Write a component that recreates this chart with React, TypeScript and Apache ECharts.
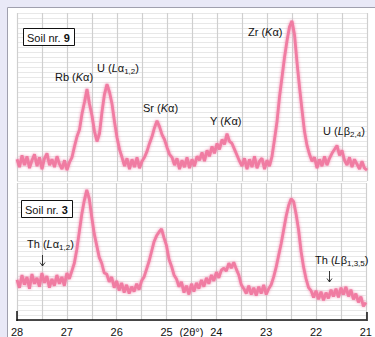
import React, { useEffect, useRef } from "react";
import * as echarts from "echarts";

// 2θ sampling grid (degrees), reading the trace every 0.05°
const X_START = 28;
const X_STEP = 0.05;

// Soil nr. 9 – intensity (arbitrary units)
const soil9: number[] = [
  22, 14, 26, 16, 25, 13, 21, 27, 15, 24, 12, 23, 28, 16, 22, 14, 25, 17, 12, 21,
  11, 19, 24, 35, 45, 52, 68, 80, 93, 78, 66, 50, 40, 48, 70, 88, 98, 90, 78, 60,
  44, 32, 24, 15, 23, 12, 22, 14, 24, 13, 20, 24, 30, 38, 45, 54, 61, 55, 47, 42,
  34, 27, 24, 16, 23, 12, 21, 14, 24, 13, 22, 15, 25, 21, 29, 20, 31, 25, 35, 28,
  38, 32, 42, 37, 48, 40, 38, 32, 26, 20, 15, 23, 12, 22, 14, 25, 13, 20, 23, 12,
  21, 15, 25, 42, 60, 85, 105, 125, 142, 156, 162, 148, 120, 95, 72, 50, 36, 27, 20, 24,
  13, 22, 15, 25, 16, 23, 28, 32, 36, 26, 31, 21, 16, 24, 14, 22, 17, 12, 20, 13,
  11,
];

// Soil nr. 3 – intensity (arbitrary units)
const soil3: number[] = [
  41, 33, 46, 36, 44, 32, 47, 37, 43, 34, 48, 38, 45, 33, 42, 35, 46, 37, 44, 35,
  48, 42, 50, 58, 72, 90, 108, 122, 133, 124, 105, 88, 76, 64, 58, 48, 47, 39, 44, 33,
  40, 30, 38, 28, 36, 27, 34, 29, 37, 31, 40, 44, 52, 60, 70, 80, 86, 90, 93, 84,
  76, 62, 55, 46, 42, 34, 39, 28, 35, 26, 37, 29, 38, 32, 41, 34, 43, 37, 46, 40,
  49, 43, 51, 53, 50, 58, 53, 59, 52, 46, 36, 32, 27, 35, 26, 33, 25, 34, 27, 36,
  26, 32, 36, 44, 54, 66, 78, 92, 106, 117, 124, 121, 108, 92, 70, 54, 42, 33, 30, 23,
  30, 21, 29, 20, 28, 22, 31, 24, 32, 23, 33, 26, 34, 24, 31, 21, 27, 18, 24, 14,
  18,
];

// axis
const X_MIN = 21;
const X_MAX = 28;
const X_INTERVAL = 0.5;
const AXIS_NAME_POS = 24.5;
const AXIS_NAME = "(2θ°)";

const FONT = "'Liberation Sans', Arial, Helvetica, sans-serif";
const LINE_COLOR = "#f07ba2";

const toPairs = (vals: number[]) =>
  vals.map((v, i) => [Math.round((X_START - i * X_STEP) * 100) / 100, v]);

const rich = {
  n: { fontSize: 11, fontFamily: FONT, color: "#111", lineHeight: 14 },
  i: { fontSize: 11, fontFamily: FONT, color: "#111", fontStyle: "italic", lineHeight: 14 },
  b: { fontSize: 11, fontFamily: FONT, color: "#111", fontWeight: "bold", lineHeight: 14 },
  s: { fontSize: 8, fontFamily: FONT, color: "#111", verticalAlign: "bottom", lineHeight: 14, padding: [5, 0, 0, 0] },
};

const label = (text: string, x: number, y: number) => ({
  type: "text",
  x,
  y,
  z: 100,
  style: { text, rich, font: `11px ${FONT}`, fill: "#111", verticalAlign: "middle", align: "left" },
});

const arrow = (x: number, y1: number, y2: number) => ({
  type: "group",
  z: 100,
  children: [
    { type: "line", z: 100, shape: { x1: x, y1, x2: x, y2 }, style: { stroke: "#222", lineWidth: 0.9 } },
    {
      type: "polyline",
      z: 100,
      shape: { points: [[x - 2.5, y2 - 3.5], [x, y2], [x + 2.5, y2 - 3.5]] },
      style: { stroke: "#222", lineWidth: 0.9, fill: "none" },
    },
  ],
});

export default function App() {
  const ref = useRef<HTMLDivElement>(null);
  useEffect(() => {
    if (!ref.current) return;
    const chart = echarts.init(ref.current, undefined, { renderer: "svg" });
    const vLine = { show: true, lineStyle: { color: "#cfcfcf", width: 1.2 } };
    const hLine = { show: true, lineStyle: { color: "#e8e8e8", width: 1 } };
    const baseX = {
      type: "value",
      min: X_MIN,
      max: X_MAX,
      interval: X_INTERVAL,
      inverse: true,
      splitLine: vLine,
      axisTick: { show: false },
    };
    const lineStyle = {
      color: LINE_COLOR,
      width: 2.8,
      shadowColor: "rgba(240,120,160,0.8)",
      shadowBlur: 3,
    };
    chart.setOption({
      animation: false,
      backgroundColor: "#ffffff",
      grid: [
        { left: 17, right: 8, top: 13, height: 168 },
        { left: 17, right: 8, top: 183, height: 138 },
      ],
      xAxis: [
        { ...baseX, gridIndex: 0, axisLine: { show: false }, axisLabel: { show: false } },
        {
          ...baseX,
          gridIndex: 1,
          axisLine: { show: true, lineStyle: { color: "#111", width: 1.5 } },
          axisLabel: {
            show: true,
            margin: 6,
            fontSize: 11,
            fontFamily: FONT,
            color: "#111",
            showMinLabel: true,
            showMaxLabel: true,
            hideOverlap: false,
            formatter: (v: number) =>
              Number.isInteger(v) ? String(v) : v === AXIS_NAME_POS ? AXIS_NAME : "",
          },
        },
      ],
      yAxis: [
        { type: "value", gridIndex: 0, min: 0, max: 170, interval: 5, axisLine: { show: false }, axisTick: { show: false }, axisLabel: { show: false }, splitLine: hLine },
        { type: "value", gridIndex: 1, min: 0, max: 140, interval: 5, axisLine: { show: false }, axisTick: { show: false }, axisLabel: { show: false }, splitLine: hLine },
      ],
      series: [
        {
          type: "line",
          xAxisIndex: 0,
          yAxisIndex: 0,
          data: toPairs(soil9),
          symbol: "none",
          lineStyle,
        },
        {
          type: "line",
          xAxisIndex: 1,
          yAxisIndex: 1,
          data: toPairs(soil3),
          symbol: "none",
          lineStyle,
        },
      ],
      graphic: [
        { type: "rect", z: 100, shape: { x: 0, y: 0, width: 7, height: 337 }, style: { fill: "#e9e9f7" } },
        { type: "rect", z: 100, shape: { x: 0, y: 0, width: 375, height: 7 }, style: { fill: "#e9e9f7" } },
        { type: "line", z: 100, shape: { x1: 7.5, y1: 7.5, x2: 375, y2: 7.5 }, style: { stroke: "#a0a0ae", lineWidth: 1 } },
        { type: "line", z: 100, shape: { x1: 7.5, y1: 7.5, x2: 7.5, y2: 337 }, style: { stroke: "#a0a0ae", lineWidth: 1 } },
        { type: "line", z: 100, shape: { x1: 17, y1: 311, x2: 17, y2: 321 }, style: { stroke: "#111", lineWidth: 1.5 } },
        { type: "line", z: 100, shape: { x1: 367, y1: 312, x2: 367, y2: 321 }, style: { stroke: "#111", lineWidth: 1.5 } },
        { type: "rect", z: 100, shape: { x: 23.5, y: 28.5, width: 51, height: 17 }, style: { fill: "#fff", stroke: "#111", lineWidth: 1 } },
        label("{n|Soil nr. }{b|9}", 27, 37.5),
        { type: "rect", z: 100, shape: { x: 21.5, y: 200.5, width: 51, height: 17 }, style: { fill: "#fff", stroke: "#111", lineWidth: 1 } },
        label("{n|Soil nr. }{b|3}", 25, 209.5),
        label("{n|Rb (}{i|K}{n|α)}", 55, 77),
        label("{n|U (}{i|L}{n|α}{s|1,2}{n|)}", 97, 68),
        label("{n|Sr (}{i|K}{n|α)}", 143, 108),
        label("{n|Zr (}{i|K}{n|α)}", 248, 32),
        label("{n|Y (}{i|K}{n|α)}", 210, 121),
        label("{n|U (}{i|L}{n|β}{s|2,4}{n|)}", 323, 131),
        label("{n|Th (}{i|L}{n|α}{s|1,2}{n|)}", 27, 244),
        arrow(42.5, 255, 266),
        label("{n|Th (}{i|L}{n|β}{s|1,3,5}{n|)}", 315, 260),
        arrow(329.5, 271, 282),
      ],
    });
    return () => chart.dispose();
  }, []);
  return (
    <div
      ref={ref}
      style={{ position: "fixed", left: 0, top: 0, width: 375, height: 337 }}
    />
  );
}
